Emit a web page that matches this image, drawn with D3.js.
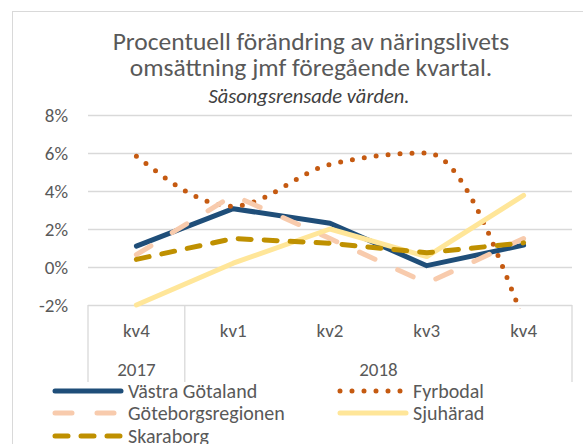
<!DOCTYPE html>
<html>
<head>
<meta charset="utf-8">
<script src="https://cdn.jsdelivr.net/npm/d3@7"></script>
<style>
	body { margin: 0; background: #fff; }
	text { font-family: Carlito, Calibri, "Open Sans", sans-serif; }
</style>
</head>
<body>
<svg id="chart" width="583" height="444"></svg>
<script>
'use strict';

// categories on the x axis, grouped by year
var quarters = ['kv4', 'kv1', 'kv2', 'kv3', 'kv4'];
var years = [{ label: '2017', from: 0, to: 1 }, { label: '2018', from: 1, to: 5 }];
var yTicks = [-0.02, 0, 0.02, 0.04, 0.06, 0.08];

// series values
var vastraGotaland = [0.011, 0.0307, 0.023, 0.0007, 0.0115];
var fyrbodal = [0.0583, 0.032, 0.054, 0.060, -0.028];
var goteborgsregionen = [0.0065, 0.0377, 0.015, -0.0085, 0.015];
var sjuharad = [-0.020, 0.002, 0.020, 0.0055, 0.0377];
var skaraborg = [0.004, 0.015, 0.0125, 0.0075, 0.0127];

var series = [
	{ name: 'Västra Götaland', values: vastraGotaland, color: '#1f4e79', width: 5, dash: null, smooth: false },
	{ name: 'Fyrbodal', values: fyrbodal, color: '#c55a11', width: 5, dash: '0,12', smooth: true },
	{ name: 'Göteborgsregionen', values: goteborgsregionen, color: '#f8cbad', width: 5, dash: '17,25', smooth: false },
	{ name: 'Sjuhärad', values: sjuharad, color: '#ffe699', width: 5, dash: null, smooth: false },
	{ name: 'Skaraborg', values: skaraborg, color: '#bf9000', width: 5, dash: '13,13', smooth: false }
];

var svg = d3.select('#chart');

// chart area border
svg.append('rect')
	.attr('x', 12.5).attr('y', 11.5)
	.attr('width', 620).attr('height', 460)
	.attr('fill', 'none').attr('stroke', '#d9d9d9');

var plot = { left: 88, right: 572, top: 115, bottom: 305 };

var x = d3.scaleBand()
	.domain(d3.range(quarters.length))
	.range([plot.left, plot.right]);

var y = d3.scaleLinear()
	.domain([-0.02, 0.08])
	.range([plot.bottom, plot.top]);

// title
var title = svg.append('g').attr('text-anchor', 'middle').attr('fill', '#595959');
title.append('text').attr('x', 311).attr('y', 50).attr('font-size', 25.5)
	.text('Procentuell förändring av näringslivets');
title.append('text').attr('x', 311).attr('y', 76).attr('font-size', 25.5)
	.text('omsättning jmf föregående kvartal.');
title.append('text').attr('x', 309).attr('y', 103).attr('font-size', 20.5)
	.attr('font-style', 'italic').attr('fill', '#404040')
	.text('Säsongsrensade värden.');

// gridlines and y labels
var yAxis = d3.axisLeft(y)
	.tickValues(yTicks)
	.tickSize(-(plot.right - plot.left))
	.tickPadding(20)
	.tickFormat(function (d) { return d3.format('.0%')(d).replace('−', '-'); });

var gy = svg.append('g')
	.attr('transform', 'translate(' + plot.left + ',0)')
	.call(yAxis);
gy.select('.domain').remove();
gy.selectAll('.tick line').attr('stroke', '#d9d9d9').attr('stroke-width', 1.3);
gy.selectAll('.tick text')
	.attr('fill', '#595959')
	.attr('font-size', 19)
	.attr('font-family', 'Carlito, Calibri, "Open Sans", sans-serif');

// category axis with year groups
var gx = svg.append('g').attr('class', 'x axis');
var boundaries = [0, 1, 5];
gx.selectAll('line.sep')
	.data(boundaries)
	.enter().append('line')
	.attr('x1', function (d) { return d === quarters.length ? plot.right : x(d); })
	.attr('x2', function (d) { return d === quarters.length ? plot.right : x(d); })
	.attr('y1', plot.bottom)
	.attr('y2', 382)
	.attr('stroke', '#d9d9d9').attr('stroke-width', 1.3);

gx.selectAll('text.q')
	.data(quarters)
	.enter().append('text')
	.attr('x', function (d, i) { return x(i) + x.bandwidth() / 2; })
	.attr('y', 337)
	.attr('text-anchor', 'middle')
	.attr('fill', '#595959')
	.attr('font-size', 19)
	.text(function (d) { return d; });

gx.selectAll('text.yr')
	.data(years)
	.enter().append('text')
	.attr('x', function (d) { return (x(d.from) + (d.to === quarters.length ? plot.right : x(d.to))) / 2; })
	.attr('y', 376)
	.attr('text-anchor', 'middle')
	.attr('fill', '#595959')
	.attr('font-size', 19)
	.text(function (d) { return d.label; });

// clip lines to the plot area
svg.append('defs').append('clipPath')
	.attr('id', 'clip')
	.append('rect')
	.attr('x', plot.left).attr('y', plot.top - 4)
	.attr('width', plot.right - plot.left)
	.attr('height', plot.bottom - plot.top + 8);

var lines = svg.append('g').attr('clip-path', 'url(#clip)');

series.forEach(function (s) {
	var line = d3.line()
		.curve(s.smooth ? d3.curveMonotoneX : d3.curveLinear)
		.x(function (d, i) { return x(i) + x.bandwidth() / 2; })
		.y(function (d) { return y(d); });
	lines.append('path')
		.datum(s.values)
		.attr('d', line)
		.attr('fill', 'none')
		.attr('stroke', s.color)
		.attr('stroke-width', s.width)
		.attr('stroke-linecap', 'round')
		.attr('stroke-linejoin', 'round')
		.attr('stroke-dasharray', s.dash);
});

// legend
var legendPos = [
	{ x: 55, y: 391 }, { x: 340, y: 391 },
	{ x: 55, y: 413 }, { x: 340, y: 413 },
	{ x: 55, y: 436 }
];
var legend = svg.append('g');
series.forEach(function (s, i) {
	var p = legendPos[i];
	legend.append('line')
		.attr('x1', p.x).attr('x2', p.x + 66)
		.attr('y1', p.y).attr('y2', p.y)
		.attr('stroke', s.color)
		.attr('stroke-width', s.width)
		.attr('stroke-linecap', 'round')
		.attr('stroke-dasharray', s.dash);
	legend.append('text')
		.attr('x', p.x + 73).attr('y', p.y + 6.5)
		.attr('fill', '#595959')
		.attr('font-size', 20)
		.text(s.name);
});
</script>
</body>
</html>
